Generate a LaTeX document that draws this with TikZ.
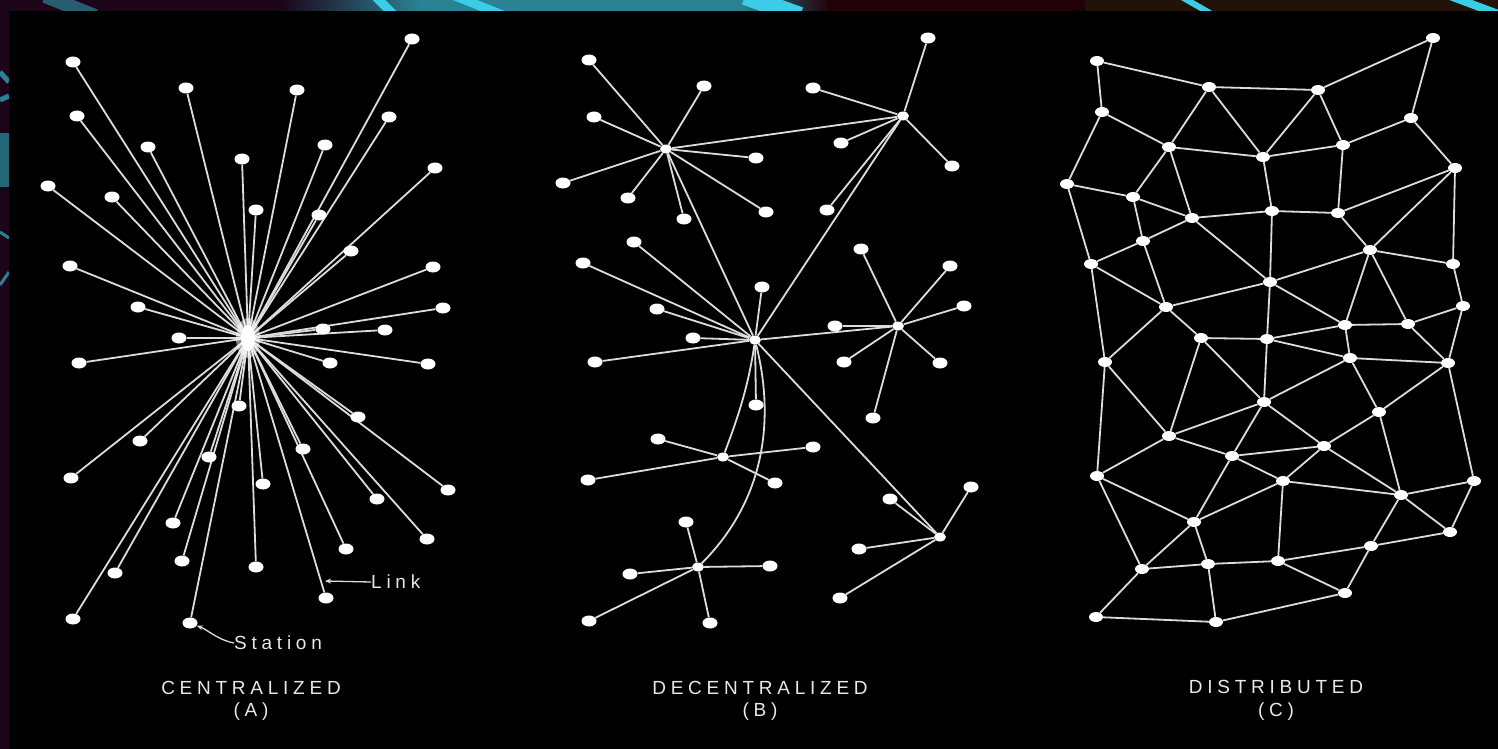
\documentclass[tikz,border=0pt]{standalone}
\usepackage{fontspec}
\setmainfont{Liberation Sans}
\usetikzlibrary{shapes.geometric,arrows.meta}
\pgfdeclarelayer{back}
\pgfdeclarelayer{edges}
\pgfsetlayers{back,edges,main}
\definecolor{linkgray}{HTML}{DCDCDC}
\definecolor{textgray}{HTML}{E8E8E8}
\definecolor{bgpurple}{HTML}{1C0518}
\definecolor{bgmaroon}{HTML}{220008}
\definecolor{bgbrown}{HTML}{221208}
\definecolor{teal}{HTML}{2B8294}
\definecolor{cyanb}{HTML}{3CCDE6}
\tikzset{
  st/.style={ellipse, fill=white, draw=none, minimum width=15pt, minimum height=11pt, inner sep=0pt},
  hb/.style={st, minimum width=12pt, minimum height=9pt},
  ln/.style={draw=linkgray, line width=1.8pt},
  lbl/.style={text=textgray, inner sep=0pt, font=\fontsize{19}{22}\selectfont\addfontfeature{LetterSpace=25}},
  streak/.style={line width=9pt, cyanb},
}
\begin{document}
\begin{tikzpicture}[x=1pt,y=-1pt]
\useasboundingbox (0,0) rectangle (1498,749);
\begin{pgfonlayer}{back}
  \fill[bgpurple] (0,0) rectangle (1498,749);
  \shade[left color=bgpurple, right color=teal] (280,0) rectangle (420,11);
  \fill[teal] (420,0) rectangle (740,11);
  \shade[left color=teal, right color=bgmaroon] (740,0) rectangle (830,11);
  \fill[bgmaroon] (830,0) rectangle (1085,11);
  \fill[bgbrown] (1085,0) rectangle (1498,11);
  \begin{scope}
    \clip (0,0) rectangle (1498,11);
    \draw[line width=14pt, teal!70!bgpurple] (45,-4) -- (95,16);
    \draw[streak] (375,-4) -- (395,16);
    \draw[streak] (455,-4) -- (505,16);
    \draw[line width=18pt, cyanb] (745,-4) -- (800,16);
    \draw[line width=6pt, cyanb] (1180,-4) -- (1215,16);
    \draw[line width=8pt, cyanb] (1450,-4) -- (1498,14);
  \end{scope}
  \begin{scope}
    \clip (0,0) rectangle (9,749);
    \draw[line width=5pt, teal] (0,72) -- (9,82);
    \draw[line width=5pt, teal] (0,100) -- (9,96);
    \fill[teal!80!black] (0,133) rectangle (9,187);
    \draw[line width=3pt, teal] (0,232) -- (9,238);
    \draw[line width=3pt, teal] (0,285) -- (9,272);
  \end{scope}
  \fill[black] (9,11) rectangle (1498,749);
\end{pgfonlayer}

% ---------------- Panel A: centralized ----------------
\coordinate (hA) at (248,338);
\foreach \n/\x/\y in {1/412/39, 2/73/62, 3/186/88, 4/297/90, 5/77/116, 6/389/117,
  7/148/147, 8/325/145, 9/242/159, 10/435/168, 11/48/186, 12/112/197, 13/256/210,
  14/319/215, 15/351/251, 16/70/266, 17/433/267, 18/138/307, 19/443/308, 20/323/329,
  21/385/330, 22/179/338, 23/79/363, 24/330/363, 25/428/364, 26/239/406, 27/358/417,
  28/140/441, 29/303/449, 30/209/457, 31/71/478, 32/263/484, 33/448/490, 34/377/499,
  35/173/523, 36/427/539, 37/346/549, 38/182/561, 39/256/567, 40/115/573, 41/326/598,
  42/73/619, 43/190/623}
  \node[st] (a\n) at (\x,\y) {};
\begin{pgfonlayer}{edges}
  \foreach \n in {1,...,43} \draw[ln] (hA) -- (a\n);
\end{pgfonlayer}
\fill[white, opacity=0.5] (hA) ellipse (12 and 20);
\fill[white] (hA) ellipse (7 and 13);

\node[lbl, anchor=west] (Link) at (371,582) {Link};
\coordinate (lk) at (325,581);
\draw[linkgray, line width=1.3pt, -{Stealth[length=6pt,width=5pt]}] (Link.west) -- (lk);
\node[lbl, anchor=west] (Station) at (234,643) {Station};
\draw[linkgray, line width=1.3pt, -{Stealth[length=6pt,width=5pt]}] (Station.west) .. controls (218,640) and (208,630) .. (a43);

\node[lbl] (labA) at (251,688) {CENTRALIZED};
\node[lbl] (labAA) at (251,712) {(A)};

% ---------------- Panel B: decentralized ----------------
\node[hb] (h1) at (666,149) {};
\node[hb] (h2) at (903,116) {};
\node[hb] (h3) at (755,340) {};
\node[hb] (h4) at (898,326) {};
\node[hb] (h5) at (723,457) {};
\node[hb] (h6) at (698,567) {};
\node[hb] (h7) at (940,537) {};
\foreach \h/\n/\x/\y in {
  1/1/589/60, 1/2/704/86, 1/3/594/117, 1/4/563/183, 1/5/628/198, 1/6/684/219, 1/7/766/212, 1/8/756/158,
  2/1/928/38, 2/2/813/88, 2/3/841/143, 2/4/952/166, 2/5/827/210,
  3/1/762/287, 3/2/634/242, 3/3/583/263, 3/4/657/309, 3/5/693/338, 3/6/595/362, 3/7/756/405,
  4/1/861/249, 4/2/950/266, 4/3/964/306, 4/4/835/326, 4/5/844/362, 4/6/940/363, 4/7/873/418,
  5/1/658/439, 5/2/813/447, 5/3/588/480, 5/4/775/483,
  6/1/686/522, 6/2/630/574, 6/3/770/566, 6/4/589/621, 6/5/710/623,
  7/1/890/499, 7/2/971/487, 7/3/859/549, 7/4/840/598}
  \node[st] (b\h-\n) at (\x,\y) {};
\begin{pgfonlayer}{edges}
  \foreach \h/\m in {1/8, 2/5, 3/7, 4/7, 5/4, 6/5, 7/4}
    \foreach \n in {1,...,\m} \draw[ln] (h\h) -- (b\h-\n);
  \draw[ln] (h1) -- (h2);
  \draw[ln] (h1) -- (h3);
  \draw[ln] (h2) -- (h3);
  \draw[ln] (h3) -- (h4);
  \draw[ln] (h3) -- (h7);
  \draw[ln] (h3) .. controls (748,390) and (735,425) .. (h5);
  \draw[ln] (h3) .. controls (775,420) and (765,500) .. (h6);
\end{pgfonlayer}

\node[lbl] (labB) at (760,688) {DECENTRALIZED};
\node[lbl] (labBB) at (760,712) {(B)};

% ---------------- Panel C: distributed ----------------
\foreach \n/\x/\y in {1/1433/38, 2/1097/61, 3/1209/87, 4/1318/90, 5/1102/112, 6/1411/118,
  7/1169/147, 8/1343/145, 9/1263/157, 10/1455/168, 11/1067/184, 12/1133/197,
  13/1272/211, 14/1338/213, 15/1192/218, 16/1143/241, 17/1370/250, 18/1091/264,
  19/1453/264, 20/1270/282, 21/1166/307, 22/1463/306, 23/1345/325, 24/1408/324,
  25/1201/338, 26/1267/339, 27/1350/358, 28/1448/363, 29/1105/362, 30/1264/402,
  31/1379/412, 32/1169/436, 33/1324/446, 34/1232/456, 35/1097/476, 36/1283/481,
  37/1474/481, 38/1401/495, 39/1194/522, 40/1450/532, 41/1371/546, 42/1142/569,
  43/1208/564, 44/1278/561, 45/1345/593, 46/1096/617, 47/1216/622}
  \node[st, minimum width=14pt, minimum height=10pt] (c\n) at (\x,\y) {};
\begin{pgfonlayer}{edges}
  \foreach \u/\v in {2/3, 2/5, 3/4, 4/1, 1/6, 3/7, 3/9, 4/9, 4/8, 5/7, 5/11, 7/9, 9/8,
    8/6, 6/10, 7/12, 7/15, 9/13, 8/14, 11/12, 11/18, 12/15, 12/16, 15/13, 13/14, 14/10,
    10/17, 10/19, 14/17, 15/16, 15/20, 13/20, 16/18, 16/21, 18/21, 18/29, 20/21, 20/17,
    20/26, 20/23, 17/19, 17/23, 17/24, 19/22, 22/24, 23/24, 21/25, 21/29, 25/26, 26/23,
    26/27, 23/27, 27/28, 24/28, 22/28, 25/30, 25/32, 26/30, 27/30, 27/31, 28/31, 28/37,
    29/32, 29/35, 30/32, 30/34, 30/33, 31/33, 31/38, 32/35, 32/34, 34/33, 34/36, 34/39,
    33/36, 33/38, 35/39, 35/42, 36/39, 36/38, 36/44, 38/37, 38/40, 38/41, 37/40, 40/41,
    39/42, 39/43, 42/43, 43/44, 44/41, 44/45, 41/45, 42/46, 43/47, 46/47, 47/45}
    \draw[ln] (c\u) -- (c\v);
\end{pgfonlayer}

\node[lbl] (labC) at (1276,687) {DISTRIBUTED};
\node[lbl] (labCC) at (1276,712) {(C)};
\end{tikzpicture}
\end{document}
